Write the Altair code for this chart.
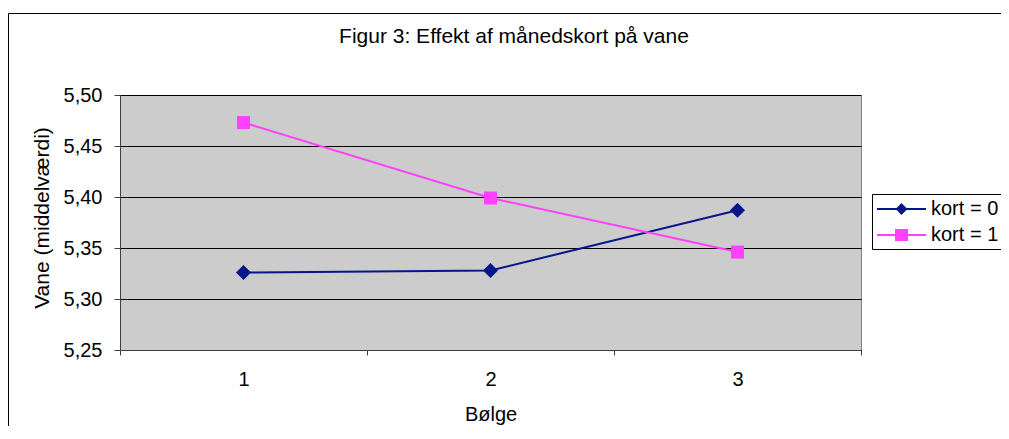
import altair as alt
import pandas as pd

# ---- data ----
waves = [1, 2, 3]
series_names = ["kort = 0", "kort = 1"]
kort0 = [5.326, 5.328, 5.387]
kort1 = [5.473, 5.399, 5.346]
y_ticks = [5.25, 5.30, 5.35, 5.40, 5.45, 5.50]
x_ticks = [0.5, 1, 1.5, 2, 2.5, 3, 3.5]
colors = ["#06168A", "#FF40FF"]
marker_shapes = ["diamond", "square"]
marker_sizes = [225, 169]
title_text = "Figur 3: Effekt af månedskort på vane"
x_title = "Bølge"
y_title = "Vane (middelværdi)"

rows = []
for s, vals in zip(series_names, [kort0, kort1]):
    for w, v in zip(waves, vals):
        rows.append({"wave": w, "series": s, "value": v})
df = pd.DataFrame(rows)

FONT = "Liberation Sans, Arial, sans-serif"
AXC = "#404040"

x_enc = alt.X(
    "wave:Q",
    scale=alt.Scale(domain=[0.5, 3.5], nice=False, zero=False),
    axis=alt.Axis(
        title=x_title, values=x_ticks,
        labelExpr="datum.value % 1 === 0 ? format(datum.value, 'd') : ''",
        tickColor={"condition": {"test": "datum.value % 1 === 0", "value": "transparent"}, "value": AXC},
        tickSize=5, labelPadding=14, titlePadding=15, grid=False,
        domainColor=AXC, labelAngle=0, labelOverlap=False, labelFlush=False,
    ),
)
y_enc = alt.Y(
    "value:Q",
    scale=alt.Scale(domain=[5.25, 5.50], nice=False, zero=False),
    axis=alt.Axis(
        title=y_title, values=y_ticks,
        labelExpr="replace(format(datum.value, '.2f'), '.', ',')",
        tickSize=6, labelPadding=12, grid=True,
        gridColor="black", gridWidth=1, domainColor=AXC, tickColor=AXC,
        labelOverlap=False, labelFlush=False,
        titleFontSize=21, titleAngle=270, titleAlign="center", titleBaseline="alphabetic",
        titleX=-71.7, titleY=122.5,
    ),
)

# one line + marker layer per series (Excel draws series 1 first, then series 2)
series_layers = []
for name, col, shp, sz in zip(series_names, colors, marker_shapes, marker_sizes):
    base = alt.Chart(df).transform_filter(alt.datum.series == name)
    series_layers.append(base.mark_line(strokeWidth=2, color=col).encode(x=x_enc, y=y_enc))
    series_layers.append(
        base.mark_point(shape=shp, filled=True, size=sz, opacity=1, color=col).encode(x=x_enc, y=y_enc)
    )

# legend symbols: a line segment with the series marker on it
legend_paths = [
    "M-1,0L3.9,0M1.45,-0.45L1.9,0L1.45,0.45L1.0,0Z",
    "M-1,0L3.9,0M0.9,-0.5L2.0,-0.5L2.0,0.5L0.9,0.5Z",
]
legend_kw = dict(
    title=None, orient="none", legendX=752, legendY=99, strokeColor="black",
    fillColor="white", padding=4, symbolSize=400, symbolStrokeWidth=2,
    symbolOpacity=1, labelFont=FONT, labelFontSize=20, labelColor="black",
    labelOffset=33, rowPadding=5, labelLimit=0,
)
legend_layer = alt.Chart(df).mark_point(filled=True, opacity=0).encode(
    x=x_enc, y=y_enc,
    shape=alt.Shape("series:N", scale=alt.Scale(domain=series_names, range=legend_paths),
                    legend=alt.Legend(**legend_kw)),
    fill=alt.Fill("series:N", scale=alt.Scale(domain=series_names, range=colors),
                  legend=alt.Legend(**legend_kw)),
    stroke=alt.Stroke("series:N", scale=alt.Scale(domain=series_names, range=colors),
                      legend=alt.Legend(**legend_kw)),
)

frame = alt.Chart(pd.DataFrame({"k": [0]})).mark_rect(
    fill="white", fillOpacity=0, stroke="black", strokeWidth=1
).encode(x=alt.value(-111.5), y=alt.value(-81.5), x2=alt.value(2000), y2=alt.value(2000))

chart = alt.layer(frame, *series_layers, legend_layer).properties(
    width=741, height=255,
    padding={"left": 112, "top": 87, "right": 140, "bottom": 76},
    autosize=alt.AutoSizeParams(type="none"),
    background="white",
    title=alt.TitleParams(
        text=title_text, font=FONT, fontSize=21, fontWeight="normal", color="black",
        anchor="middle", frame="group", dx=23.5, baseline="alphabetic", offset=-51,
    ),
).configure_view(
    fill="#CCCCCC", stroke="#808080", strokeWidth=1
).configure_axis(
    labelFont=FONT, labelFontSize=20, labelColor="black",
    titleFont=FONT, titleFontSize=20, titleFontWeight="normal", titleColor="black",
)

chart.save("out.html", embed_options={"renderer": "svg", "actions": False})
